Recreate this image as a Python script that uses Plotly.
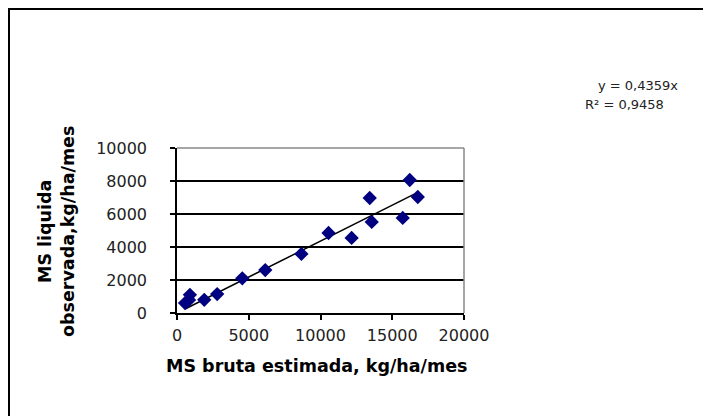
import plotly.graph_objects as go

x_bruta = [560, 840, 900, 1900, 2800, 4550, 6150, 8670, 10560, 12170, 13430, 13570, 15730, 16220, 16780]
y_liquida = [600, 790, 1100, 800, 1150, 2100, 2600, 3580, 4850, 4550, 6970, 5520, 5760, 8060, 7030]
slope = 0.4359
eq_text = "y = 0,4359x"
r2_text = "R² = 0,9458"
x_ticks = [0, 5000, 10000, 15000, 20000]
y_ticks = [0, 2000, 4000, 6000, 8000, 10000]

x_line = [min(x_bruta), max(x_bruta)]
y_line = [slope * v for v in x_line]

L, R, T, B = 177, 464, 148, 313
W, H = R - L, B - T


def px(xp):
    return (xp - L) / W


def py(yp):
    return (B - yp) / H


fig = go.Figure()
fig.add_trace(go.Scatter(x=x_line, y=y_line, mode="lines",
                         line=dict(color="black", width=1.5), hoverinfo="skip"))
fig.add_trace(go.Scatter(x=x_bruta, y=y_liquida, mode="markers",
                         marker=dict(symbol="diamond", size=11, color="#000080")))

font_tick = dict(family="DejaVu Sans, sans-serif", size=16, color="#222")
font_title = dict(family="DejaVu Sans, sans-serif", size=17.5, color="black")

fig.update_layout(
    width=703, height=416,
    margin=dict(l=L, r=703 - R, t=T, b=416 - B, autoexpand=False),
    paper_bgcolor="white", plot_bgcolor="white",
    showlegend=False,
    xaxis=dict(range=[0, 20000], tickvals=x_ticks, ticktext=[str(v) for v in x_ticks],
               ticks="outside", ticklen=5, tickwidth=1.5,
               tickcolor="black", showline=True, linecolor="black", linewidth=1.5,
               showgrid=False, zeroline=False, tickfont=font_tick, automargin=False,
               ticklabelstandoff=2),
    yaxis=dict(range=[0, 10000], tickvals=y_ticks, ticktext=[str(v) for v in y_ticks],
               ticks="outside", ticklen=5, tickwidth=1.5,
               tickcolor="black", showline=True, linecolor="black", linewidth=1.5,
               showgrid=True, gridcolor="black", gridwidth=1.5, zeroline=False,
               tickfont=font_tick, ticklabelstandoff=20, automargin=False),
    shapes=[
        dict(type="line", xref="paper", yref="paper", x0=0, x1=1, y0=1, y1=1,
             line=dict(color="#888", width=1.5)),
        dict(type="line", xref="paper", yref="paper", x0=1, x1=1, y0=0, y1=1,
             line=dict(color="#888", width=1.5)),
        dict(type="line", xref="paper", yref="paper",
             x0=px(9), x1=px(9), y0=py(416), y1=py(9),
             line=dict(color="black", width=2)),
        dict(type="line", xref="paper", yref="paper",
             x0=px(8), x1=px(703), y0=py(9), y1=py(9),
             line=dict(color="black", width=2)),
    ],
    annotations=[
        dict(text="<b>MS bruta estimada, kg/ha/mes</b>", xref="paper", yref="paper",
             x=px(317), y=py(366), showarrow=False,
             xanchor="center", yanchor="middle", font=font_title),
        dict(text="<b>MS liquida<br>observada,kg/ha/mes</b>", xref="paper", yref="paper",
             x=px(56), y=py(232), showarrow=False, textangle=-90,
             xanchor="center", yanchor="middle", font=font_title),
        dict(text=eq_text, xref="paper", yref="paper",
             x=px(596), y=py(85), showarrow=False,
             xanchor="left", yanchor="middle",
             font=dict(family="DejaVu Sans, sans-serif", size=13, color="#222")),
        dict(text=r2_text, xref="paper", yref="paper",
             x=px(583), y=py(104), showarrow=False,
             xanchor="left", yanchor="middle",
             font=dict(family="DejaVu Sans, sans-serif", size=13, color="#222")),
    ],
)

fig.write_html("out.html", config={"displayModeBar": False},
               post_script="document.body.style.margin='0';document.body.style.overflow='hidden';")
